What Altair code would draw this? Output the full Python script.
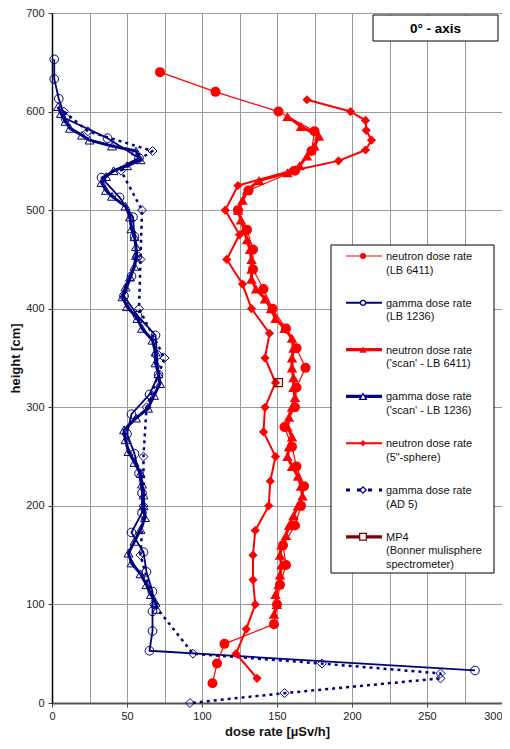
import altair as alt
import pandas as pd

FONT = "Liberation Sans"
RED = "#ff0000"
NAVY = "#000080"
MAROON = "#800000"

# ---------------- data (height [cm], dose rate [uSv/h]) ----------------
# neutron dose rate (LB 6411)
n6411_h = [640, 620, 600, 580, 560, 540, 520, 500, 480, 460, 440, 420, 400, 380, 360, 340,
           320, 300, 280, 260, 240, 220, 200, 180, 160, 140, 120, 100, 80, 60, 40, 20]
n6411_x = [72, 109, 151, 175, 173, 162, 131, 124, 130, 134, 134, 141, 147, 156, 163, 169,
           163, 162, 155, 160, 163, 168, 166, 162, 154, 156, 152, 150, 148, 115, 110, 107]

# gamma dose rate (LB 1236)
g1236_h = [653, 633, 613, 593, 573, 553, 533, 513, 493, 473, 453, 433, 413, 393, 373, 353,
           333, 313, 293, 273, 253, 233, 213, 193, 173, 153, 133, 113, 93, 73, 53, 33]
g1236_x = [1.5, 1.5, 4.5, 9, 37, 58, 33, 45, 54, 55, 57, 53, 48, 57, 69, 70,
           71, 65, 53, 50, 55, 58, 60, 60, 53, 61, 63, 67, 67, 67, 65, 282]

# neutron dose rate ('scan' - LB 6411)
nscan_h = [595, 585, 575, 565, 555, 545, 538, 530, 520, 510, 500, 490, 480, 470, 460, 450,
           440, 430, 420, 410, 400, 390, 380, 370, 360, 350, 340, 330, 320, 310, 300, 290,
           280, 270, 260, 250, 240, 230, 220, 210, 200, 190, 180, 170, 160, 150, 140, 130,
           120, 110, 100, 90]
nscan_x = [157, 166, 178, 175, 170, 165, 157, 138, 130, 127, 124, 126, 128, 130, 132, 133,
           133, 133, 136, 142, 146, 149, 155, 160, 161, 160, 160, 161, 161, 162, 160, 158,
           157, 160, 158, 157, 160, 164, 166, 167, 164, 161, 158, 156, 153, 152, 153, 152,
           151, 149, 150, 148]

# gamma dose rate ('scan' - LB 1236)
gscan_h = [605, 598, 590, 583, 576, 571, 565, 560, 551, 545, 540, 534, 528, 520, 514, 504,
           493, 481, 473, 463, 454, 443, 432, 422, 412, 402, 390, 380, 368, 356, 345, 334,
           324, 312, 299, 289, 277, 267, 255, 244, 233, 222, 211, 200, 188, 176, 164, 152,
           142, 131, 120, 110, 102, 95]
gscan_x = [4, 6, 9, 12, 20, 25, 40, 56, 59, 50, 41, 36, 33, 36, 40, 49,
           52, 53, 55, 56, 56, 55, 52, 49, 47, 50, 57, 60, 67, 69, 69, 71,
           72, 68, 64, 56, 48, 49, 51, 55, 59, 60, 61, 61, 62, 59, 55, 51,
           53, 59, 63, 66, 69, 70]

# neutron dose rate (5"-sphere)
nsph_h = [612, 600, 591, 581, 571, 561, 550, 540, 525, 500, 475, 450, 425, 400, 375, 350,
          325, 300, 275, 250, 225, 200, 175, 150, 125, 100, 75, 50, 25]
nsph_x = [170, 199, 209, 209.5, 213, 209, 191, 160, 124, 115.5, 125, 116.5, 127, 133, 145, 142,
          149, 142, 141, 149, 145.5, 144.5, 135.5, 134, 134, 135.5, 129.5, 122.7, 136.7]

# gamma dose rate (AD 5)
ad5_h = [600, 580, 560, 540, 500, 450, 400, 350, 300, 250, 200, 150, 100, 50, 40, 30, 25, 10, 0]
ad5_x = [8, 24, 67, 46, 60, 59, 58, 75, 63, 61, 61, 59, 68, 94, 180, 259, 259, 155, 92]

# MP4 (Bonner multisphere spectrometer)
mp4_h = [325]
mp4_x = [151]

legend_labels = [
    ["neutron dose rate", "(LB 6411)"],
    ["gamma dose rate", "(LB 1236)"],
    ["neutron dose rate", "('scan' - LB 6411)"],
    ["gamma dose rate", "('scan' - LB 1236)"],
    ["neutron dose rate", "(5\"-sphere)"],
    ["gamma dose rate", "(AD 5)"],
    ["MP4", "(Bonner mulisphere", "spectrometer)"],
]
title_text = "0° - axis"

x_ticks = list(range(0, 301, 25))
y_ticks = list(range(0, 701, 100))


def df(h, x):
    return pd.DataFrame({"h": h, "x": x, "i": list(range(len(h)))})


x_axis = alt.Axis(
    values=x_ticks,
    labelExpr="datum.value % 50 == 0 ? datum.label : ''",
    labelAlign={"condition": {"test": "datum.value >= 300", "value": "right"}, "value": "center"},
    grid=True, gridColor="#9a9a9a", gridWidth=1,
    tickOpacity={"condition": {"test": "datum.value % 50 == 0", "value": 1}, "value": 0},
    tickSize=4, tickColor="#444", tickWidth=1,
    domainColor="#555", domainWidth=2,
    labelFont=FONT, labelFontSize=11, labelColor="#222", labelPadding=3,
    titleFont=FONT, titleFontSize=13, titleFontWeight="bold", titleColor="#111", titlePadding=4,
)
y_axis = alt.Axis(
    values=y_ticks,
    grid=True, gridColor="#9a9a9a", gridWidth=1,
    tickSize=4, tickColor="#444", tickWidth=1,
    domainColor="#000", domainWidth=1.5,
    labelFont=FONT, labelFontSize=11, labelColor="#222", labelPadding=4,
    titleFont=FONT, titleFontSize=13, titleFontWeight="bold", titleColor="#111", titlePadding=3,
)
x_enc = alt.X("x:Q", scale=alt.Scale(domain=[0, 300], nice=False, zero=False), axis=x_axis,
              title="dose rate [µSv/h]")
y_enc = alt.Y("h:Q", scale=alt.Scale(domain=[0, 700], nice=False, zero=False), axis=y_axis,
              title="height [cm]")


def line(d, color, width, dash=None):
    kw = dict(color=color, strokeWidth=width, strokeJoin="round")
    if dash:
        kw["strokeDash"] = dash
    return alt.Chart(d).mark_line(**kw).encode(x=x_enc, y=y_enc, order="i:Q")


def pts(d, shape, color, size, filled, sw=1.0):
    if filled:
        m = alt.Chart(d).mark_point(shape=shape, filled=True, color=color, size=size, opacity=1,
                                    strokeWidth=0)
    else:
        m = alt.Chart(d).mark_point(shape=shape, filled=False, color=color, size=size, opacity=1,
                                    strokeWidth=sw)
    return m.encode(x=x_enc, y=y_enc)


d_n6411 = df(n6411_h, n6411_x)
d_g1236 = df(g1236_h, g1236_x)
d_nscan = df(nscan_h, nscan_x)
d_gscan = df(gscan_h, gscan_x)
d_nsph = df(nsph_h, nsph_x)
d_ad5 = df(ad5_h, ad5_x)
d_mp4 = df(mp4_h, mp4_x)

layers = [
    line(d_ad5, NAVY, 2.5, [3, 4]),
    pts(d_ad5, "diamond", NAVY, 80, False, 1),
    line(d_g1236, NAVY, 1.8),
    pts(d_g1236, "circle", NAVY, 75, False, 1),
    line(d_gscan, NAVY, 3),
    pts(d_gscan, "triangle-up", NAVY, 80, False, 1),
    line(d_nsph, RED, 2),
    pts(d_nsph, "diamond", RED, 85, True),
    line(d_n6411, RED, 1.2),
    pts(d_n6411, "circle", RED, 100, True),
    line(d_nscan, RED, 3),
    pts(d_nscan, "triangle-up", RED, 110, True),
    pts(d_mp4, "square", MAROON, 64, False, 1.2),
]

one = pd.DataFrame({"k": [0]})

# title box
layers.append(alt.Chart(one).mark_rect(fill="white", stroke="black", strokeWidth=1).encode(
    x=alt.value(321), x2=alt.value(446), y=alt.value(2), y2=alt.value(28)))
layers.append(alt.Chart(pd.DataFrame({"t": [title_text]})).mark_text(
    font=FONT, fontSize=13.5, fontWeight="bold", color="#000", align="center", baseline="middle"
).encode(x=alt.value(383.5), y=alt.value(15.5), text="t:N"))

# legend box
layers.append(alt.Chart(one).mark_rect(fill="white", stroke="black", strokeWidth=1).encode(
    x=alt.value(279), x2=alt.value(442), y=alt.value(232), y2=alt.value(560)))

legend_styles = [
    dict(color=RED, width=1.2, dash=None, shape="circle", filled=True, size=36),
    dict(color=NAVY, width=2, dash=None, shape="circle", filled=False, size=25),
    dict(color=RED, width=3.3, dash=None, shape="triangle-up", filled=True, size=55),
    dict(color=NAVY, width=3.3, dash=None, shape="triangle-up", filled=False, size=45),
    dict(color=RED, width=2, dash=None, shape="diamond", filled=True, size=40),
    dict(color=NAVY, width=3, dash=[4, 7], shape="diamond", filled=False, size=40),
    dict(color=MAROON, width=3.3, dash=None, shape="square", filled=False, size=45),
]

for i, (labels, st) in enumerate(zip(legend_labels, legend_styles)):
    ry = 243 + 46.8 * i
    rkw = dict(color=st["color"], strokeWidth=st["width"])
    if st["dash"]:
        rkw["strokeDash"] = st["dash"]
    layers.append(alt.Chart(one).mark_rule(**rkw).encode(
        x=alt.value(294), x2=alt.value(330), y=alt.value(ry)))
    if st["filled"]:
        pm = alt.Chart(one).mark_point(shape=st["shape"], filled=True, color=st["color"],
                                       size=st["size"], opacity=1, strokeWidth=0)
    else:
        pm = alt.Chart(one).mark_point(shape=st["shape"], filled=True, fill="white",
                                       stroke=st["color"], size=st["size"], opacity=1,
                                       strokeWidth=1.3)
    layers.append(pm.encode(x=alt.value(311), y=alt.value(ry)))
    for k, txt in enumerate(labels):
        layers.append(alt.Chart(pd.DataFrame({"t": [txt]})).mark_text(
            font=FONT, fontSize=11, color="#111", align="left", baseline="middle"
        ).encode(x=alt.value(334), y=alt.value(ry + 1 + 13.5 * k), text="t:N"))

chart = alt.layer(*layers).properties(
    width=450, height=690,
    autosize=alt.AutoSizeParams(type="none"),
    padding={"left": 44, "top": 5, "right": 0, "bottom": 37},
    background="white",
).configure_view(stroke=None)

chart.save("out.html", embed_options={"renderer": "svg", "actions": False})
